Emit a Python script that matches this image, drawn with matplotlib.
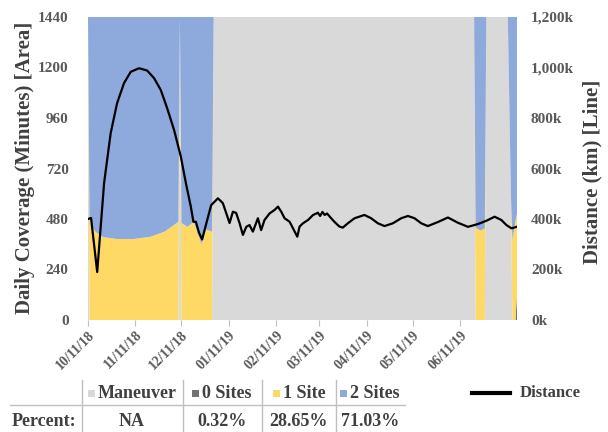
import datetime as dt
import matplotlib
matplotlib.use("Agg")
import matplotlib.pyplot as plt
import matplotlib.dates as mdates
from matplotlib.ticker import FuncFormatter, MultipleLocator, FixedLocator
from matplotlib.lines import Line2D
from matplotlib.patches import Rectangle

# ---------------- data ----------------
START = dt.datetime(2018, 10, 11)
END_DAY = 280

tick_dates = ["2018-10-11", "2018-11-11", "2018-12-11", "2019-01-11", "2019-02-11",
              "2019-03-11", "2019-04-11", "2019-05-11", "2019-06-11"]

area_days = [0, 1, 3, 5, 10, 19, 30, 41, 50, 56, 59, 60, 61, 65, 69, 74, 77, 81, 82,
             252, 253, 256, 259, 260, 274, 276, 277, 279, 280]
maneuver = [1440, 0, 0, 0, 0, 0, 0, 0, 0, 0, 0, 1440, 0, 0, 0, 0, 0, 0, 1440,
            1440, 0, 0, 0, 1440, 1440, 600, 0, 0, 0]
sites0 = [0, 0, 0, 0, 0, 0, 0, 0, 0, 0, 0, 0, 0, 0, 0, 0, 0, 0, 0,
          0, 0, 0, 0, 0, 0, 0, 0, 0, 125]
sites1 = [0, 485, 440, 418, 394, 385, 385, 396, 420, 451, 467, 0, 461, 443, 467, 361, 430, 420, 0,
          0, 440, 425, 435, 0, 0, 0, 380, 470, 380]
sites2 = [0, 955, 1000, 1022, 1046, 1055, 1055, 1044, 1020, 989, 973, 0, 979, 997, 973, 1079, 1010, 1020, 0,
          0, 1000, 1015, 1005, 0, 0, 840, 1060, 970, 935]

dist_days = [0, 2, 6, 10.5, 14.8, 19, 23.5, 27.9, 33.3, 38.6, 43.1, 47.5, 51.6, 56.2, 60.6,
             63.9, 67.1, 68.8, 70.4, 72.5, 74.5, 77.8, 80.4, 84.8, 88, 92.4, 94.6, 96.7, 98.9, 101.1,
             103.3, 105.4, 107.6, 110.9, 113, 115.2, 118.5, 121.8, 124, 126.1, 128.3, 131.6, 133.8,
             136.6, 138.1, 140.3, 143.6, 146.9, 149.1, 150, 151.5, 153, 154.5, 156, 158.7, 160.8,
             164.1, 166.3, 169.6, 174, 180.4, 184.8, 189.2, 193.5, 199, 204.4, 208.8, 213.1, 217.5,
             221.8, 228.4, 234.9, 241.5, 248, 254.5, 260, 265.4, 269.8, 273.1, 276.4, 279.7]
dist_k = [400, 404, 190, 542, 740, 859, 938, 983, 997, 988, 958, 911, 840, 752, 647,
          542, 449, 389, 389, 345, 319, 396, 455, 482, 463, 384, 429, 424, 384, 337,
          369, 376, 350, 403, 356, 396, 422, 436, 449, 429, 403, 389, 363,
          330, 370, 383, 396, 416, 422, 425, 412, 428, 416, 422, 403, 389,
          370, 366, 383, 403, 416, 403, 383, 372, 383, 403, 412, 403, 383,
          372, 388, 406, 385, 369, 380, 393, 409, 396, 376, 363, 369]

series_names = ["Maneuver", "0 Sites", "1 Site", "2 Sites"]
percents = ["NA", "0.32%", "28.65%", "71.03%"]
colors = ["#D9D9D9", "#767171", "#FFD966", "#8EA9DB"]

# ---------------- figure ----------------
SERIF = ["Liberation Serif", "DejaVu Serif"]
plt.rcParams["font.family"] = SERIF
plt.rcParams["font.weight"] = "bold"

W, H = 608, 432
fig = plt.figure(figsize=(W / 100, H / 100), dpi=100)
L, R, T, B = 88, 517, 17, 320
ax = fig.add_axes([L / W, 1 - B / H, (R - L) / W, (B - T) / H])

area_dates = [START + dt.timedelta(days=d) for d in area_days]
ax.stackplot(area_dates, maneuver, sites0, sites1, sites2, colors=colors, linewidth=0)
ax.set_ylim(0, 1440)
ax.set_xlim(START, START + dt.timedelta(days=END_DAY))
ax.yaxis.set_major_locator(MultipleLocator(240))

tick_col = "#595959"
ax.xaxis.set_major_locator(FixedLocator(mdates.date2num([dt.datetime.fromisoformat(d) for d in tick_dates])))
ax.xaxis.set_major_formatter(mdates.DateFormatter("%m/%d/%y"))
ax.tick_params(axis="x", colors="#BFBFBF", length=4, width=0.8, labelcolor=tick_col,
               labelsize=10, pad=2)
ax.tick_params(axis="y", length=0, labelcolor=tick_col, labelsize=11, pad=14)
plt.setp(ax.get_xticklabels(), rotation=45, ha="right", rotation_mode="anchor", fontweight="bold")
for s in ax.spines.values():
    s.set_visible(False)

ax2 = ax.twinx()
dist_dates = [START + dt.timedelta(days=d) for d in dist_days]
ax2.plot(dist_dates, dist_k, color="black", linewidth=1.6, solid_joinstyle="round")
ax2.set_ylim(0, 1200)
ax2.yaxis.set_major_locator(MultipleLocator(200))
ax2.yaxis.set_major_formatter(FuncFormatter(lambda v, p: f"{int(v):,}k"))
ax2.tick_params(axis="y", length=0, labelcolor=tick_col, labelsize=11, pad=10)
for s in ax2.spines.values():
    s.set_visible(False)

lab_col = "#404040"
fig.text(25 / W, 1 - 168 / H, "Daily Coverage (Minutes) [Area]", rotation=90, ha="center",
         va="center", fontsize=15, fontweight="bold", color=lab_col)
fig.text(592 / W, 1 - 172 / H, "Distance (km) [Line]", rotation=90, ha="center",
         va="center", fontsize=15, fontweight="bold", color=lab_col)

# ---------------- table / legend ----------------
def fx(x):
    return x / W

def fy(y):
    return 1 - y / H

line_col = "#BFBFBF"
fig.add_artist(Line2D([fx(10), fx(405)], [fy(405), fy(405)], color=line_col, lw=1))
for xv in [82, 183, 262, 336]:
    fig.add_artist(Line2D([fx(xv), fx(xv)], [fy(380), fy(432)], color=line_col, lw=1))

col_centers = [132, 222, 299, 370]
row1, row2 = 393, 422
for cx, name, col, pct in zip(col_centers, series_names, colors, percents):
    t = fig.text(fx(cx + 5), fy(row1), name, ha="center", va="center", fontsize=13,
                 fontweight="bold", color=lab_col)
    fig.text(fx(cx), fy(row2), pct, ha="center", va="center", fontsize=13,
             fontweight="bold", color=lab_col)
    fig.canvas.draw()
    bb = t.get_window_extent()
    x0 = bb.x0 - 10
    fig.add_artist(Rectangle((x0 / W, fy(row1) - 3.5 / H), 7 / W, 7 / H,
                             transform=fig.transFigure, color=col, lw=0))
fig.text(fx(44), fy(row2), "Percent:", ha="center", va="center", fontsize=13,
         fontweight="bold", color=lab_col)

fig.add_artist(Line2D([fx(472), fx(510)], [fy(393), fy(393)], color="black", lw=3))
fig.text(fx(520), fy(393), "Distance", ha="left", va="center", fontsize=12,
         fontweight="bold", color=lab_col)

fig.savefig("out.png", dpi=100)
